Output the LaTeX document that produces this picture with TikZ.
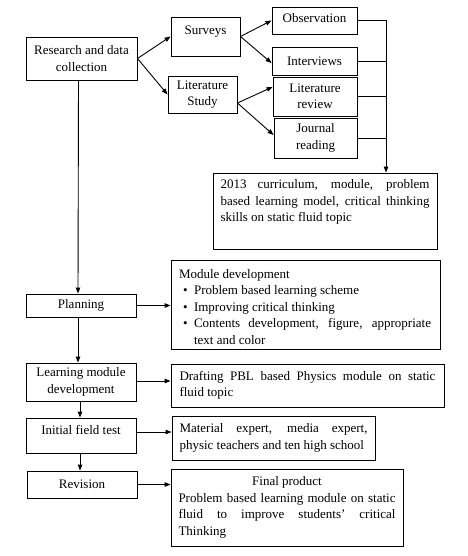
\documentclass[tikz,border=0pt]{standalone}
\usepackage{fontspec}
\setmainfont{Liberation Serif}
\usepackage{tikz}
\usetikzlibrary{arrows.meta}

\begin{document}
\begin{tikzpicture}[x=1pt, y=-1pt, line width=0.9pt,
        >={Triangle[length=6pt,width=4.5pt]},
        box/.style={draw=black, inner sep=0pt, font=\fontsize{13}{16.5}\selectfont}]
        \useasboundingbox (0,0) rectangle (467,556);

        % data collection
        \node (research) at (81.5,58.5) [box, minimum width=111pt, minimum height=43pt, align=center] {Research and data\\collection};
        \node (surveys) at (205.5,36.5) [box, minimum width=69pt, minimum height=39pt, text depth=12pt] {Surveys};
        \node (litstudy) at (202.5,94.5) [box, minimum width=69pt, minimum height=37pt, align=center] {Literature\\Study};
        \node (observation) at (314.5,20.5) [box, minimum width=85pt, minimum height=27pt, text depth=6pt] {Observation};
        \node (interviews) at (314.5,61) [box, minimum width=85pt, minimum height=28pt] {Interviews};
        \node (litreview) at (315,96.5) [box, minimum width=84pt, minimum height=39pt, align=center] {Literature\\review};
        \node (journal) at (315.5,138) [box, minimum width=83pt, minimum height=40pt, align=center] {Journal\\reading};
        \node (curriculum) at (325,211) [box, minimum width=224pt, minimum height=76pt, text width=209pt, align=justify, text depth=54pt] {2013 curriculum, module, problem\linebreak based learning model, critical thinking\linebreak skills on static fluid topic};
        \draw[->] (research.east) -- (surveys.west);
        \draw[->] (research.east) -- (litstudy.west);
        \draw[->] (surveys.east) -- (observation.west);
        \draw[->] (surveys.east) -- ([yshift=-2pt]interviews.west);
        \draw[->] ([yshift=-8.5pt]litstudy.east) -- ([yshift=9.5pt]litreview.west);
        \draw[->] ([yshift=-8.5pt]litstudy.east) -- ([yshift=3pt]journal.west);

        % collecting line
        \coordinate (bus) at (386,0);
        \draw[->] (observation.east) -| (bus |- curriculum.north);
        \draw (interviews.east) -- (interviews.east -| bus);
        \draw (litreview.east) -- (litreview.east -| bus);
        \draw (journal.east) -- (journal.east -| bus);

        % development steps
        \node (planning) at (81,305.5) [box, minimum width=110pt, minimum height=23pt] {Planning};
        \node (learning) at (81,382) [box, minimum width=110pt, minimum height=38pt, align=center] {Learning module\\development};
        \node (initial) at (81,435.5) [box, minimum width=110pt, minimum height=35pt, text depth=11pt] {Initial field test};
        \node (revision) at (82,484.5) [box, minimum width=110pt, minimum height=27pt] {Revision};

        % outcomes
        \node (moddev) at (305.5,304.5) [box, minimum width=269pt, minimum height=89pt, text width=253pt, align=justify, text height=14pt] {Module development\\
            \hspace*{4pt}\textbullet\hspace{6.5pt}Problem based learning scheme\\
            \hspace*{4pt}\textbullet\hspace{6.5pt}Improving critical thinking\\
            \hspace*{4pt}\textbullet\hspace{6.5pt}\parbox[t]{237pt}{Contents development, figure, appropriate\linebreak text and color}};
        \node (drafting) at (307.5,385.5) [box, minimum width=273pt, minimum height=43pt, text width=256pt, align=justify] {Drafting PBL based Physics module on static\linebreak fluid topic};
        \node (material) at (273.5,438) [box, minimum width=203pt, minimum height=44pt, text width=188pt, align=justify] {Material expert, media expert,\linebreak physic teachers and ten high school};
        \node (final) at (287,507.5) [box, minimum width=232pt, minimum height=77pt, text width=217pt, align=justify] {{\centering Final product\par}Problem based learning module on static\linebreak fluid to improve students' critical\linebreak Thinking};

        \draw[->] ([xshift=-3pt]research.south) -- ([xshift=-3pt]planning.north);
        \draw[->] ([xshift=-3pt]planning.south) -- ([xshift=-3pt]learning.north);
        \draw[->] ([xshift=-1pt]learning.south) -- ([xshift=-1pt]initial.north);
        \draw[->] ([xshift=-1pt]initial.south) -- ([xshift=-2pt]revision.north);
        \draw[->] (planning.east) -- (planning.east -| moddev.west);
        \draw[->] ([yshift=1pt]learning.east) -- ([yshift=1pt]learning.east -| drafting.west);
        \draw[->] ([yshift=3.5pt]initial.east) -- ([yshift=3.5pt]initial.east -| material.west);
        \draw[->] (revision.east) -- (revision.east -| final.west);
\end{tikzpicture}
\end{document}
